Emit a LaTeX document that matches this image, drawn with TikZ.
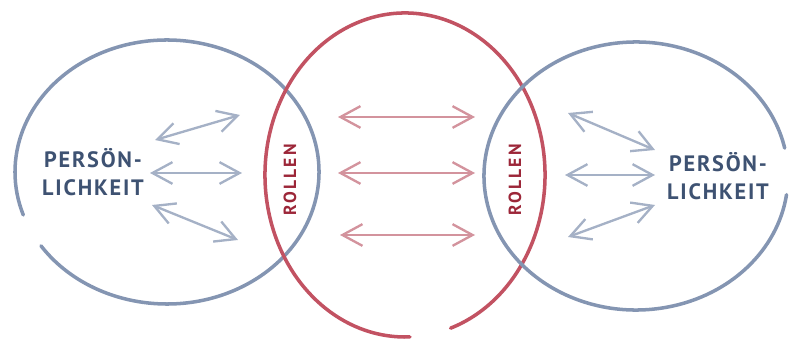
\documentclass[tikz,border=0pt]{standalone}
\usepackage{fontspec}
\setmainfont{PT Sans}
\usepackage{xcolor}
\usetikzlibrary{arrows.meta,positioning}
\definecolor{strichblau}{HTML}{8495B2}
\definecolor{strichrot}{HTML}{C25262}
\definecolor{pfeilblaufarbe}{HTML}{A5B1C6}
\definecolor{pfeilrotfarbe}{HTML}{D3939D}
\definecolor{textblau}{HTML}{3E5272}
\definecolor{textrot}{HTML}{9C2638}

\begin{document}
\begin{tikzpicture}[
  x=0.03cm, y=0.03cm,
  kreisblau/.style={draw=strichblau, line width=3pt, line cap=round},
  kreisrot/.style={draw=strichrot, line width=3pt, line cap=round},
  person/.style={align=center, text=textblau,
               font=\bfseries\fontsize{19}{24}\selectfont\addfontfeatures{LetterSpace=8}},
  rolle/.style={rotate=90, text=textrot,
               font=\bfseries\fontsize{15}{18}\selectfont\addfontfeatures{LetterSpace=12}},
  pfeilblau/.style={{Straight Barb[length=6mm,width=6.5mm]}-{Straight Barb[length=6mm,width=6.5mm]},
               line width=2pt, draw=pfeilblaufarbe},
  pfeilrot/.style={{Straight Barb[length=6mm,width=6.5mm]}-{Straight Barb[length=6mm,width=6.5mm]},
               line width=2pt, draw=pfeilrotfarbe}
]
\useasboundingbox (0,0) rectangle (789,340);

\coordinate (mittelinks) at (167,168);
\coordinate (mittemitte) at (405,165);
\coordinate (mitterechts) at (636,164);

\draw[kreisblau] (mittelinks) ++(214:152 and 132)
  arc[start angle=214, end angle=559, x radius=152, y radius=132];
\draw[kreisrot] (mittemitte) ++(-71:140 and 162)
  arc[start angle=-71, end angle=272, x radius=140, y radius=162];
\draw[kreisblau] (mitterechts) ++(12:152 and 134)
  arc[start angle=12, end angle=352, x radius=152, y radius=134];

\node[person] (personlinks) at (93,168) {PERSÖN-\\LICHKEIT};
\node[person] (personrechts) at (718,164) {PERSÖN-\\LICHKEIT};
\node[rolle] (rollelinks) at (290,160) {ROLLEN};
\node[rolle] (rollerechts) at (515,160) {ROLLEN};

\coordinate (l1a) at (155,200); \coordinate (l1b) at (240,225);
\coordinate (l2a) at (150,167); \coordinate (l2b) at (242,167);
\coordinate (l3a) at (152,135); \coordinate (l3b) at (238,100);
\coordinate (m1a) at (338,223); \coordinate (m1b) at (475,223);
\coordinate (m2a) at (338,167); \coordinate (m2b) at (475,167);
\coordinate (m3a) at (340,105); \coordinate (m3b) at (475,105);
\coordinate (r1a) at (568,227); \coordinate (r1b) at (655,190);
\coordinate (r2a) at (565,165); \coordinate (r2b) at (655,165);
\coordinate (r3a) at (568,103); \coordinate (r3b) at (655,135);

\draw[pfeilblau] (l1a) -- (l1b);
\draw[pfeilblau] (l2a) -- (l2b);
\draw[pfeilblau] (l3a) -- (l3b);
\draw[pfeilrot] (m1a) -- (m1b);
\draw[pfeilrot] (m2a) -- (m2b);
\draw[pfeilrot] (m3a) -- (m3b);
\draw[pfeilblau] (r1a) -- (r1b);
\draw[pfeilblau] (r2a) -- (r2b);
\draw[pfeilblau] (r3a) -- (r3b);
\end{tikzpicture}
\end{document}
